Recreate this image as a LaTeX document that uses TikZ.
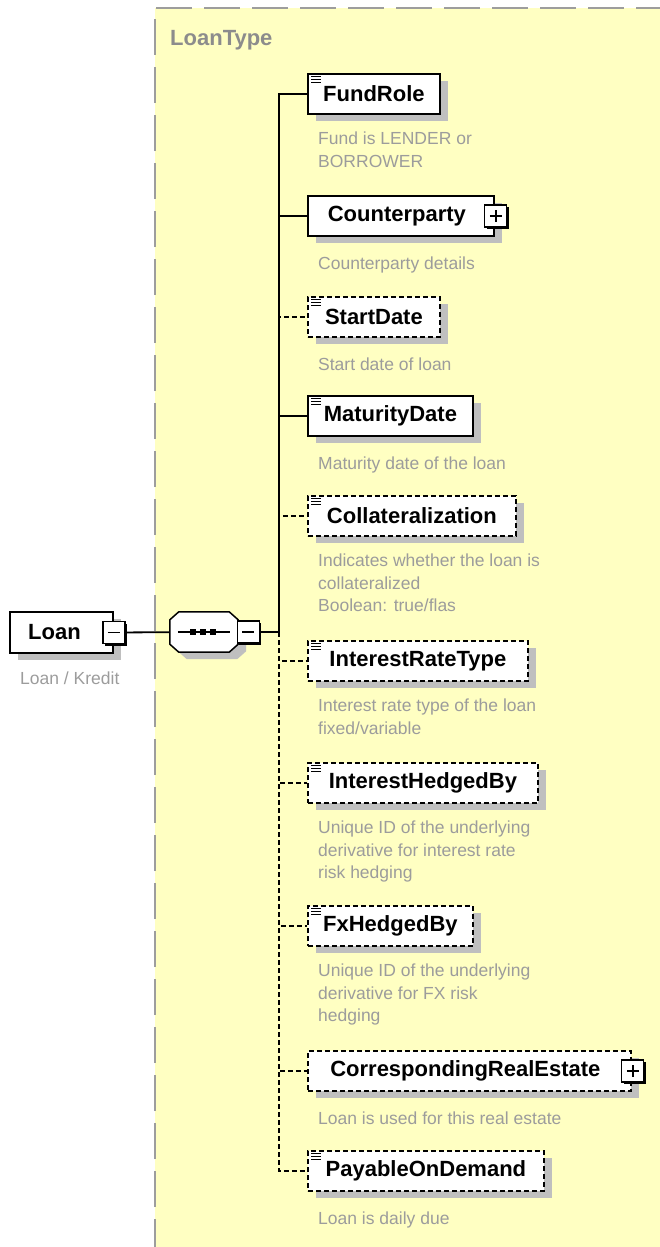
\documentclass[tikz,border=0pt]{standalone}
\usepackage{fontspec}
\setmainfont{Liberation Sans}
\usepackage{xcolor}
\usepackage{tikz}
\usetikzlibrary{positioning, calc, shadows}
\definecolor{typeyellow}{HTML}{FFFFC2}
\definecolor{typegray}{HTML}{8C8C8C}
\definecolor{descgray}{HTML}{9C9C9C}
\newcommand{\elemfont}{\fontsize{22}{26}\selectfont\bfseries}
\newcommand{\descfont}{\fontsize{17.5}{22.5}\selectfont}
\newcommand{\seqoutline}{($(seq.north west)+(9,0)$) -- ($(seq.north east)+(-9,0)$) -- ($(seq.north east)+(0,8)$)
    -- ($(seq.south east)+(0,-8)$) -- ($(seq.south east)+(-9,0)$) -- ($(seq.south west)+(9,0)$)
    -- ($(seq.south west)+(0,-8)$) -- ($(seq.north west)+(0,8)$) -- cycle}
\tikzset{
    elem/.style={rectangle, draw=black, line width=1.8pt, fill=white, anchor=west, minimum height=40pt, inner sep=0pt, font=\elemfont,
        drop shadow={shadow xshift=8pt, shadow yshift=-7pt, fill=black!25, opacity=1}},
    optelem/.style={elem, dash pattern=on 5pt off 3pt},
    desc/.style={anchor=north west, align=left, inner sep=0pt, text=descgray, font=\descfont, execute at begin node=\strut},
    togglebox/.style={rectangle, draw=black, line width=1.2pt, fill=white, minimum size=22pt, inner sep=0pt,
        drop shadow={shadow xshift=2pt, shadow yshift=-2pt, fill=black, opacity=1}},
    seqbox/.style={rectangle, minimum width=68pt, minimum height=40pt, inner sep=0pt},
    conn/.style={line width=1.8pt, black},
    optconn/.style={conn, dash pattern=on 5pt off 3pt},
    sign/.style={line width=1.4pt, black},
    icon/.style={line width=1pt, black},
}

\begin{document}
\begin{tikzpicture}[x=1pt, y=-1pt]
    \useasboundingbox (0,0) rectangle (659,1247);
    % complex type area
    \fill[typeyellow] (155,8) rectangle (665,1255);
    \draw[typegray!85, line width=1.5pt, dash pattern=on 36pt off 12pt] (155,1255) -- (155,8) -- (665,8);
    \node[anchor=base west, inner sep=0pt, font=\elemfont, text=typegray] (loantype) at (170,46) {LoanType};

    % root element and sequence
    \node[elem, anchor=center, minimum width=103pt, minimum height=41pt] (loan) at (61.5,632.5) {Loan\kern14pt};
    \node[desc] (loandesc) at (20,669) {Loan / Kredit};
    \node[togglebox] (loanmin) at (loan.east) {};
    \node[seqbox] (seq) at (204,632) {};
    \fill[black!25, transform canvas={xshift=8pt, yshift=-7pt}] \seqoutline;
    \filldraw[fill=white, draw=black, line width=1.5pt] \seqoutline;
    \node[togglebox] (seqmin) at ($(seq.east)+(10,0)$) {};
    \coordinate (trunk) at ($(seqmin.east)+(19,0)$);

    % child elements
    \node[elem, minimum width=132pt] (fundrole) at (307,94) {FundRole};
    \node[desc] (fundroledesc) at ($(fundrole.south west)+(11,17)$) {Fund is LENDER or\\BORROWER};
    \node[elem, minimum width=186pt] (counterparty) at (307,216) {Counterparty\kern8pt};
    \node[desc] (counterpartydesc) at ($(counterparty.south west)+(11,17)$) {Counterparty details};
    \node[optelem, minimum width=132pt] (startdate) at (307,317) {StartDate};
    \node[desc] (startdatedesc) at ($(startdate.south west)+(11,17)$) {Start date of loan};
    \node[elem, minimum width=165pt] (maturitydate) at (307,416) {MaturityDate};
    \node[desc] (maturitydatedesc) at ($(maturitydate.south west)+(11,17)$) {Maturity date of the loan};
    \node[optelem, minimum width=208pt] (collateral) at (307,516) {Collateralization};
    \node[desc] (collateraldesc) at ($(collateral.south west)+(11,17)$) {Indicates whether the loan is\\collateralized\\Boolean: true/flas};
    \node[optelem, minimum width=220pt] (ratetype) at (307,661) {InterestRateType};
    \node[desc] (ratetypedesc) at ($(ratetype.south west)+(11,17)$) {Interest rate type of the loan\\fixed/variable};
    \node[optelem, minimum width=230pt] (ratehedge) at (307,783) {InterestHedgedBy};
    \node[desc] (ratehedgedesc) at ($(ratehedge.south west)+(11,17)$) {Unique ID of the underlying\\derivative for interest rate\\risk hedging};
    \node[optelem, minimum width=165pt] (fxhedge) at (307,926) {FxHedgedBy};
    \node[desc] (fxhedgedesc) at ($(fxhedge.south west)+(11,17)$) {Unique ID of the underlying\\derivative for FX risk\\hedging};
    \node[optelem, minimum width=323pt] (realestate) at (307,1071) {CorrespondingRealEstate\kern8pt};
    \node[desc] (realestatedesc) at ($(realestate.south west)+(11,17)$) {Loan is used for this real estate};
    \node[optelem, minimum width=236pt] (ondemand) at (307,1171) {PayableOnDemand};
    \node[desc] (ondemanddesc) at ($(ondemand.south west)+(11,17)$) {Loan is daily due};
    \node[togglebox] (counterpartyplus) at ($(counterparty.east)+(1,0)$) {};
    \node[togglebox] (realestateplus) at ($(realestate.east)+(1,0)$) {};

    % sequence symbol
    \draw[conn] ($(seq.west)+(8,0)$) -- ($(seq.east)+(-8,0)$);
    \foreach \dx in {-11,-1,9}
        \fill ($(seq.center)+(\dx,0)$) +(-3,-3) rectangle +(3,3);

    % expand and collapse signs
    \foreach \n in {loanmin, seqmin, counterpartyplus, realestateplus}
        \draw[sign] ($(\n.center)+(-6,0)$) -- ($(\n.center)+(6,0)$);
    \foreach \n in {counterpartyplus, realestateplus}
        \draw[sign] ($(\n.center)+(0,-6)$) -- ($(\n.center)+(0,6)$);

    % simple content icons
    \foreach \n in {fundrole, startdate, maturitydate, collateral, ratetype, ratehedge, fxhedge, ondemand}
        \foreach \dy in {3.5,6.5,9.5}
            \draw[icon] ($(\n.north west)+(4,\dy)$) -- ($(\n.north west)+(14,\dy)$);

    % connectors
    \draw[conn] (loanmin) -- (seq);
    \draw[conn] (seqmin) -- (trunk);
    \foreach \n in {fundrole, counterparty, maturitydate}
        \draw[conn] (trunk) |- (\n.west);
    \foreach \n in {startdate, collateral, ratetype, ratehedge, fxhedge, realestate, ondemand}
        \draw[optconn] (trunk) |- (\n.west);
\end{tikzpicture}
\end{document}
